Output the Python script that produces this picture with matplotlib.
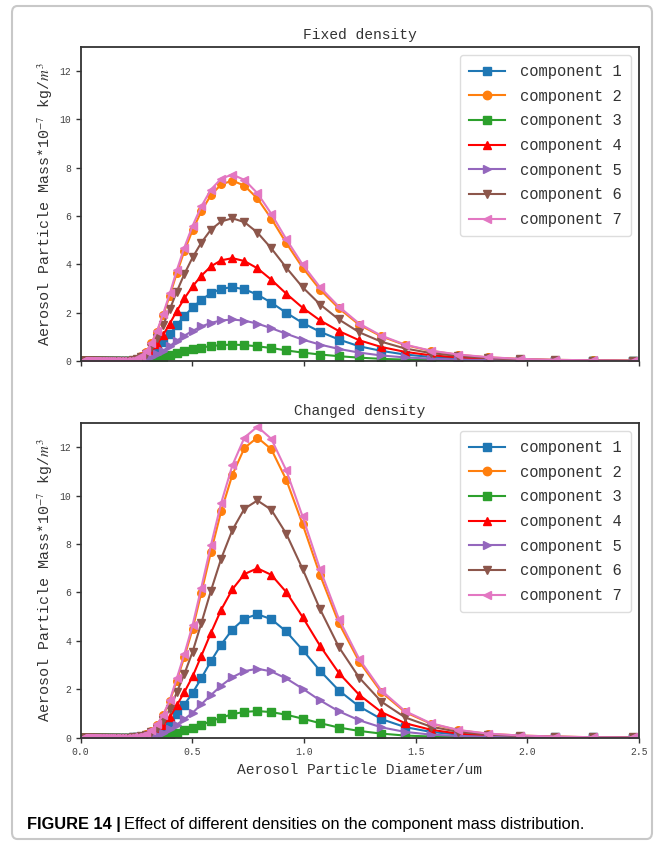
import matplotlib
matplotlib.use("Agg")
import matplotlib.pyplot as plt
from matplotlib.patches import FancyBboxPatch

# particle diameter bins (um), geometric spacing
diam_low = [0.010, 0.011, 0.012, 0.013, 0.014, 0.015, 0.016, 0.018, 0.019, 0.020,
            0.022, 0.024, 0.026, 0.028, 0.030, 0.032, 0.035, 0.038, 0.041, 0.044,
            0.047, 0.051, 0.055, 0.059, 0.064, 0.069, 0.075, 0.081, 0.087, 0.094,
            0.101, 0.109, 0.118, 0.127, 0.137, 0.148, 0.160, 0.173, 0.186, 0.201,
            0.217]
mass_low = [0.0, 0.0, 0.0, 0.0, 0.0, 0.0, 0.0, 0.0, 0.0, 0.0,
            0.0, 0.0, 0.0, 0.0, 0.0, 0.0, 0.0, 0.0, 0.0, 0.0,
            0.0, 0.0, 0.0, 0.0, 0.0, 0.0, 0.0, 0.0, 0.0, 0.0,
            0.0, 0.0, 0.0, 0.0, 0.0, 0.0, 0.0, 0.0, 0.0, 0.0,
            0.0]
diam = [0.234, 0.252, 0.272, 0.294, 0.317, 0.342, 0.369, 0.399, 0.430, 0.464,
        0.501, 0.540, 0.583, 0.629, 0.679, 0.733, 0.791, 0.853, 0.920, 0.993,
        1.072, 1.156, 1.247, 1.346, 1.452, 1.567, 1.690, 1.824, 1.968, 2.124,
        2.292, 2.473]

# fixed density (mass * 1e-7 kg/m3)
fixed = [
    [0.02, 0.04, 0.08, 0.16, 0.3, 0.5, 0.77, 1.11, 1.49, 1.86, 2.22, 2.53, 2.81, 2.99, 3.06, 2.97,
     2.75, 2.42, 2.0, 1.58, 1.21, 0.89, 0.61, 0.42, 0.27, 0.17, 0.11, 0.06, 0.04, 0.02, 0.01, 0.0],
    [0.05, 0.1, 0.19, 0.39, 0.73, 1.21, 1.89, 2.71, 3.63, 4.55, 5.42, 6.2, 6.87, 7.31, 7.47, 7.26,
     6.73, 5.9, 4.89, 3.87, 2.95, 2.18, 1.5, 1.02, 0.66, 0.42, 0.26, 0.15, 0.09, 0.05, 0.03, 0.01],
    [0.0, 0.01, 0.02, 0.04, 0.07, 0.11, 0.17, 0.25, 0.33, 0.41, 0.49, 0.56, 0.62, 0.66, 0.68, 0.66,
     0.61, 0.54, 0.44, 0.35, 0.27, 0.2, 0.14, 0.09, 0.06, 0.04, 0.02, 0.01, 0.01, 0.0, 0.0, 0.0],
    [0.03, 0.06, 0.11, 0.22, 0.41, 0.69, 1.08, 1.55, 2.07, 2.59, 3.09, 3.53, 3.92, 4.17, 4.26, 4.14,
     3.84, 3.37, 2.79, 2.21, 1.68, 1.24, 0.86, 0.58, 0.38, 0.24, 0.15, 0.09, 0.05, 0.03, 0.02, 0.01],
    [0.01, 0.02, 0.04, 0.09, 0.17, 0.28, 0.43, 0.62, 0.84, 1.05, 1.25, 1.43, 1.58, 1.68, 1.72, 1.67,
     1.55, 1.36, 1.13, 0.89, 0.68, 0.5, 0.35, 0.23, 0.15, 0.1, 0.06, 0.04, 0.02, 0.01, 0.01, 0.0],
    [0.04, 0.08, 0.15, 0.31, 0.57, 0.96, 1.49, 2.14, 2.87, 3.6, 4.29, 4.9, 5.44, 5.78, 5.91, 5.75,
     5.32, 4.67, 3.87, 3.06, 2.34, 1.72, 1.19, 0.8, 0.52, 0.33, 0.21, 0.12, 0.07, 0.04, 0.02, 0.01],
    [0.05, 0.1, 0.2, 0.4, 0.75, 1.25, 1.95, 2.8, 3.75, 4.7, 5.6, 6.4, 7.1, 7.55, 7.72, 7.5,
     6.95, 6.1, 5.05, 4.0, 3.05, 2.25, 1.55, 1.05, 0.68, 0.43, 0.27, 0.16, 0.09, 0.05, 0.03, 0.01],
]

# changed density
changed = [
    [0.01, 0.02, 0.03, 0.06, 0.12, 0.22, 0.38, 0.62, 0.97, 1.37, 1.85, 2.46, 3.16, 3.85, 4.47, 4.92,
     5.1, 4.9, 4.39, 3.63, 2.76, 1.95, 1.29, 0.77, 0.44, 0.24, 0.13, 0.07, 0.04, 0.02, 0.01, 0.0],
    [0.02, 0.04, 0.08, 0.14, 0.29, 0.53, 0.92, 1.5, 2.36, 3.33, 4.49, 5.98, 7.67, 9.36, 10.86, 11.97,
     12.4, 11.92, 10.66, 8.83, 6.71, 4.73, 3.14, 1.88, 1.06, 0.58, 0.31, 0.16, 0.09, 0.05, 0.02, 0.01],
    [0.0, 0.0, 0.01, 0.01, 0.03, 0.05, 0.08, 0.13, 0.21, 0.3, 0.4, 0.53, 0.68, 0.83, 0.97, 1.07,
     1.1, 1.06, 0.95, 0.79, 0.6, 0.42, 0.28, 0.17, 0.09, 0.05, 0.03, 0.01, 0.01, 0.0, 0.0, 0.0],
    [0.01, 0.02, 0.04, 0.08, 0.16, 0.3, 0.52, 0.84, 1.34, 1.88, 2.53, 3.38, 4.33, 5.29, 6.13, 6.76,
     7.0, 6.73, 6.02, 4.99, 3.79, 2.67, 1.77, 1.06, 0.6, 0.33, 0.17, 0.09, 0.05, 0.03, 0.01, 0.01],
    [0.0, 0.01, 0.02, 0.03, 0.07, 0.12, 0.21, 0.34, 0.54, 0.77, 1.03, 1.38, 1.76, 2.15, 2.5, 2.75,
     2.85, 2.74, 2.45, 2.03, 1.54, 1.09, 0.72, 0.43, 0.24, 0.13, 0.07, 0.04, 0.02, 0.01, 0.0, 0.0],
    [0.02, 0.03, 0.06, 0.11, 0.23, 0.42, 0.72, 1.18, 1.87, 2.63, 3.55, 4.73, 6.07, 7.4, 8.58, 9.46,
     9.8, 9.42, 8.43, 6.98, 5.3, 3.74, 2.48, 1.49, 0.84, 0.46, 0.24, 0.13, 0.07, 0.04, 0.02, 0.01],
    [0.02, 0.04, 0.08, 0.15, 0.3, 0.55, 0.95, 1.55, 2.45, 3.45, 4.65, 6.2, 7.95, 9.7, 11.25, 12.4,
     12.85, 12.35, 11.05, 9.15, 6.95, 4.9, 3.25, 1.95, 1.1, 0.6, 0.32, 0.17, 0.09, 0.05, 0.02, 0.01],
]

labels = ["component 1", "component 2", "component 3", "component 4",
          "component 5", "component 6", "component 7"]
colors = ["#1f77b4", "#ff7f0e", "#2ca02c", "#ff0000", "#9467bd", "#8c564b", "#e377c2"]
markers = ["s", "o", "s", "^", ">", "v", "<"]

MONO = "Liberation Mono"
plt.rcParams["mathtext.fontset"] = "stix"


def draw_panel(ax, series, title, show_xticklabels):
    for vals, lab, col, mk in zip(series, labels, colors, markers):
        ax.plot(diam_low + diam, mass_low + vals, color=col, marker=mk,
                markersize=5.5, linewidth=1.5, label=lab)
    ax.set_xlim(0, 2.5)
    ax.set_ylim(0, 13)
    ax.set_xticks([0.0, 0.5, 1.0, 1.5, 2.0, 2.5])
    ax.set_yticks([0, 2, 4, 6, 8, 10, 12])
    ax.tick_params(labelsize=7, length=3.5, width=1, color="#333333", labelcolor="#444444")
    for lbl in ax.get_xticklabels() + ax.get_yticklabels():
        lbl.set_family(MONO)
    if not show_xticklabels:
        ax.set_xticklabels([])
    for sp in ax.spines.values():
        sp.set_color("#333333")
        sp.set_linewidth(1.3)
    ax.set_title(title, family=MONO, fontsize=10.5, color="#333333", pad=6)
    ax.set_ylabel("Aerosol Particle Mass*10$^{-7}$ kg/$m^3$", family=MONO,
                  fontsize=10.8, color="#333333", labelpad=3)
    leg = ax.legend(loc="upper right", prop={"family": MONO, "size": 11.2},
                    handlelength=2.3, labelspacing=0.62, borderpad=0.6,
                    handletextpad=1.0, framealpha=1.0, edgecolor="#dddddd",
                    markerscale=1.1)
    for t in leg.get_texts():
        t.set_color("#333333")


fig = plt.figure(figsize=(6.64, 8.41), dpi=100)

frame = FancyBboxPatch((12 / 664, 2 / 841), 640 / 664, 833 / 841,
                       boxstyle="round,pad=0,rounding_size=0.008",
                       transform=fig.transFigure, facecolor="none",
                       edgecolor="#c8c8c8", linewidth=1.5)
fig.patches.append(frame)

ax1 = fig.add_axes([0.1215, 0.5707, 0.8411, 0.3734])
ax2 = fig.add_axes([0.1215, 0.1228, 0.8411, 0.3742])

draw_panel(ax1, fixed, "Fixed density", False)
draw_panel(ax2, changed, "Changed density", True)
ax2.set_xlabel("Aerosol Particle Diameter/um", family=MONO, fontsize=10.5,
               color="#333333", labelpad=4)

# caption
cap_y = 1 - 824 / 841
renderer = fig.canvas.get_renderer()
t1 = fig.text(27 / 664, cap_y, "FIGURE 14 |", fontsize=11.8, fontweight="bold",
              family=["Liberation Sans Narrow", "Liberation Sans"], va="center")
bb = t1.get_window_extent(renderer=renderer)
fig.text((bb.x1 + 3) / 664, cap_y,
         "Effect of different densities on the component mass distribution.",
         fontsize=11.8, family=["Liberation Sans Narrow", "Liberation Sans"], va="center")

fig.savefig("out.png", dpi=100)
